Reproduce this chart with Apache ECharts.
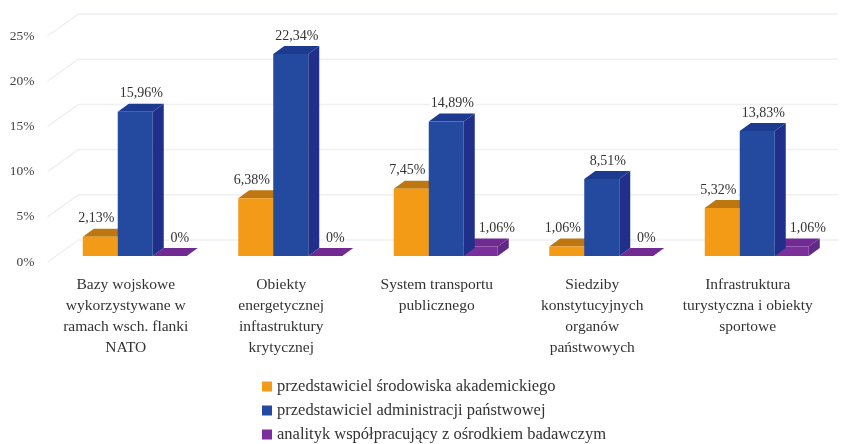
<!DOCTYPE html>
<html><head><meta charset="utf-8">
<style>html,body{margin:0;padding:0;background:#fff}#c{width:844px;height:444px}</style>
<script src="https://cdn.jsdelivr.net/npm/echarts@6/dist/echarts.min.js"></script>
</head><body><div id="c"></div>
<script>
const categories = ["Bazy wojskowe\nwykorzystywane w\nramach wsch. flanki\nNATO","Obiekty\nenergetycznej\ninftastruktury\nkrytycznej","System transportu\npublicznego","Siedziby\nkonstytucyjnych\norganów\npaństwowych","Infrastruktura\nturystyczna i obiekty\nsportowe"];
const academic = [2.13,6.38,7.45,1.06,5.32];
const administration = [15.96,22.34,14.89,8.51,13.83];
const analyst = [0,0,1.06,0,1.06];
const ticks = [0,5,10,15,20,25];
const FONT = '"Liberation Serif", serif';
const DX = 11, DY = 8, LIFT = 6;

function pct(v){ return String(v).replace('.',',') + '%'; }

function barSeries(name, values, left, width, z, labelDx, colors){
  return {
    type:'custom', name, z, coordinateSystem:'cartesian2d',
    itemStyle:{color:colors.front},
    data: values.map((v,i)=>[i,v]),
    encode:{x:0,y:1},
    renderItem(params, api){
      const v = api.value(1);
      const top = api.coord([api.value(0), v]);
      const base = api.coord([api.value(0), 0]);
      const x0 = top[0] + left, x1 = x0 + width;
      const yt = top[1] - LIFT, yb = base[1] - LIFT;
      const children = [
        {type:'polygon',shape:{points:[[x1,yb],[x1+DX,yb-DY],[x1+DX,yt-DY],[x1,yt]]},style:{fill:colors.side}},
        {type:'polygon',shape:{points:[[x0,yt],[x0+DX,yt-DY],[x1+DX,yt-DY],[x1,yt]]},style:{fill:colors.top}},
        {type:'rect',shape:{x:x0,y:yt,width:width,height:yb-yt},style:{fill:colors.front}},
        {type:'text',z2:50,style:{text:pct(v),x:(x0+x1)/2+labelDx(v),y:yt-18,align:'center',verticalAlign:'middle',
          font:'14px '+FONT,fill:'#333',backgroundColor:'#fff',padding:[0,1]}}
      ];
      return {type:'group',children};
    }
  };
}

const wall = {
  type:'custom', name:'grid', silent:true, z:1, data:ticks.map(t=>[0,t]), encode:{y:1},
  renderItem(params, api){
    const p = api.coord([0, api.value(1)]);
    const left = params.coordSys.x - 10;
    const s = {stroke:'#eef0f3',lineWidth:1.5,fill:null};
    return {type:'group',children:[
      {type:'polyline',shape:{points:[[left,p[1]],[left+31,p[1]-22],[838,p[1]-22]]},style:s}
    ]};
  }
};

const chart = echarts.init(document.getElementById('c'));
chart.setOption({
  animation:false,
  backgroundColor:'#fff',
  grid:{left:57.5,top:36,width:777.5,height:226,containLabel:false},
  xAxis:{type:'category',data:categories,axisLine:{show:false},axisTick:{show:false},
    axisLabel:{interval:0,color:'#333',fontFamily:FONT,fontSize:15.5,lineHeight:21,margin:12,padding:[0,19,0,0]}},
  yAxis:{type:'value',min:0,max:25,interval:5,splitLine:{show:false},axisLine:{show:false},axisTick:{show:false},
    axisLabel:{formatter:'{value}%',color:'#444',fontFamily:FONT,fontSize:13.5,margin:23}},
  legend:{orient:'vertical',left:262,top:378,width:500,height:80,padding:0,itemWidth:10,itemHeight:10,itemGap:7,icon:'rect',
    data:['przedstawiciel środowiska akademickiego','przedstawiciel administracji państwowej','analityk współpracujący z ośrodkiem badawczym'],
    textStyle:{fontFamily:FONT,fontSize:16.5,color:'#333'}},
  series:[
    wall,
    barSeries('przedstawiciel środowiska akademickiego',academic,-52.5,35,3,()=>-4,{front:'#f39a17',side:'#c87d10',top:'#bd7610'}),
    barSeries('analityk współpracujący z ośrodkiem badawczym',analyst,17.5,34,4,v=>v>0?16:10,{front:'#7a2f9c',side:'#5f2a85',top:'#702a92'}),
    barSeries('przedstawiciel administracji państwowej',administration,-17.5,35,5,()=>6,{front:'#234a9f',side:'#20308a',top:'#1c3a8f'})
  ]
});
</script></body></html>
